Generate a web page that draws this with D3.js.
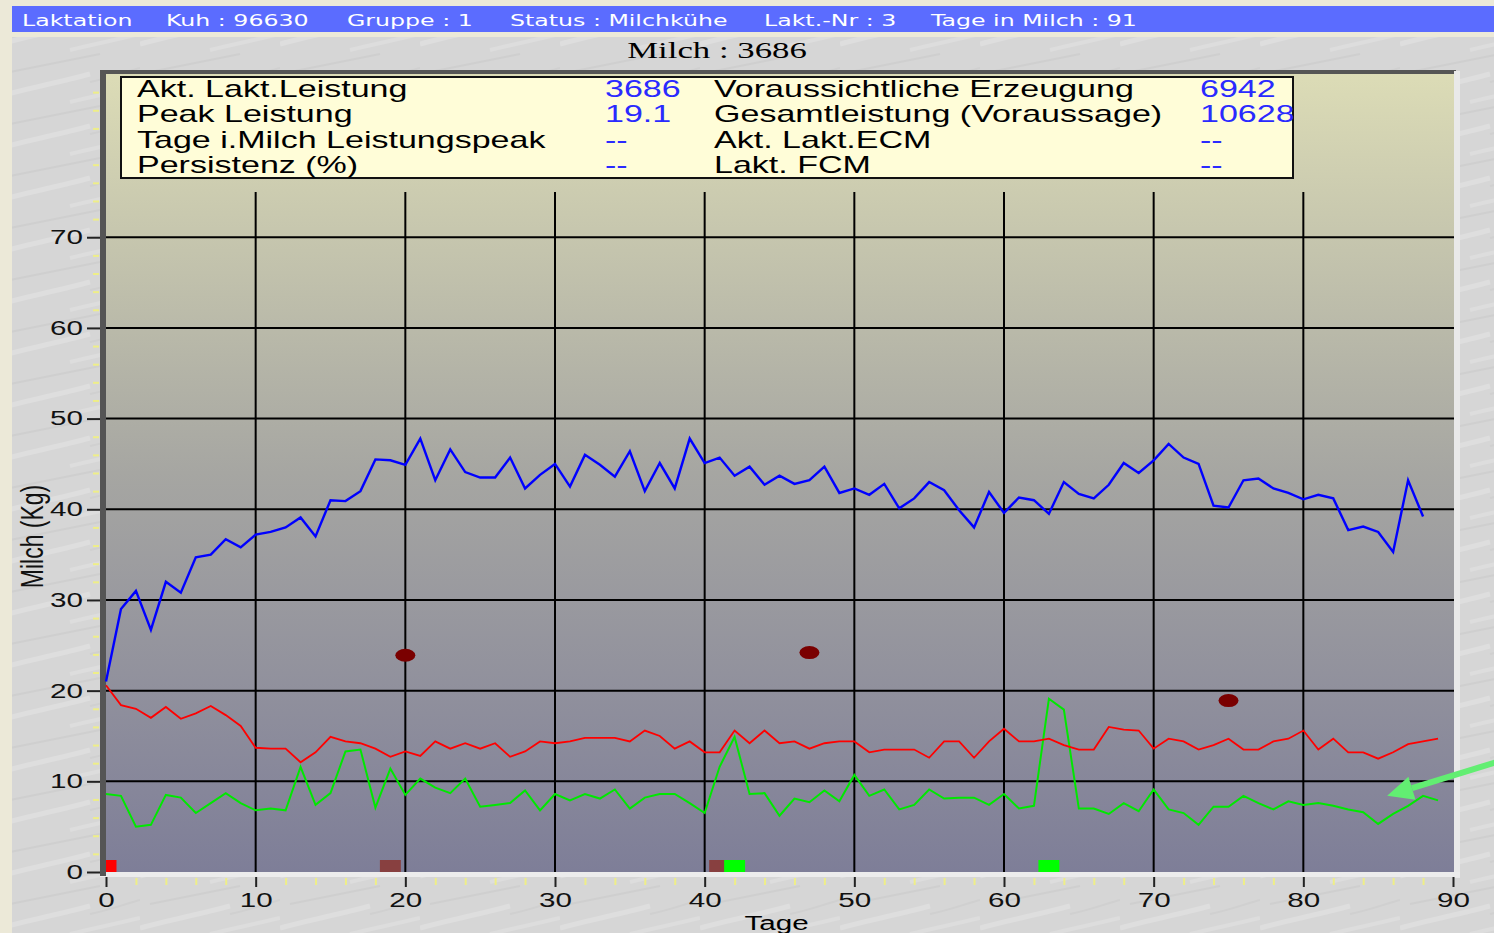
<!DOCTYPE html>
<html>
<head>
<meta charset="utf-8">
<script src="https://cdn.jsdelivr.net/npm/d3@7"></script>
<style>
  body { margin: 0; background: #ece9d8; }
  svg { display: block; }
</style>
</head>
<body>
<svg id="chart" width="1494" height="933"></svg>
<script>

// header + info box texts
let headerFields = ['Laktation', 'Kuh : 96630', 'Gruppe : 1', 'Status : Milchkühe', 'Lakt.-Nr : 3', 'Tage in Milch : 91']
let chartTitle = 'Milch : 3686'
let infoLabelsLeft = ['Akt. Lakt.Leistung', 'Peak Leistung', 'Tage i.Milch Leistungspeak', 'Persistenz (%)']
let infoValuesLeft = ['3686', '19.1', '--', '--']
let infoLabelsRight = ['Voraussichtliche Erzeugung', 'Gesamtleistung (Voraussage)', 'Akt. Lakt.ECM', 'Lakt. FCM']
let infoValuesRight = ['6942', '10628', '--', '--']

// axes
let xTicks = [0, 10, 20, 30, 40, 50, 60, 70, 80, 90]
let yTicks = [0, 10, 20, 30, 40, 50, 60, 70]
let xTitle = 'Tage'
let yTitle = 'Milch (Kg)'

// daily series, index = day in milk
let milchKg = [
  21.0, 29.0, 31.0, 26.7, 32.0, 30.8, 34.7, 35.0, 36.7, 35.8,
  37.2, 37.5, 38.0, 39.1, 37.0, 41.0, 40.9, 42.0, 45.5, 45.4,
  44.9, 47.8, 43.2, 46.6, 44.1, 43.5, 43.5, 45.7, 42.3, 43.8,
  45.0, 42.5, 46.0, 44.9, 43.6, 46.4, 42.0, 45.1, 42.3, 47.8,
  45.1, 45.7, 43.7, 44.7, 42.7, 43.7, 42.8, 43.2, 44.7, 41.8,
  42.3, 41.6, 42.8, 40.1, 41.2, 43.0, 42.1, 39.9, 38.0, 41.9,
  39.6, 41.3, 41.0, 39.5, 43.0, 41.7, 41.2, 42.7, 45.1, 44.0,
  45.4, 47.2, 45.7, 45.0, 40.4, 40.2, 43.2, 43.4, 42.3, 41.8,
  41.1, 41.6, 41.2, 37.7, 38.1, 37.5, 35.3, 43.2, 39.2
]
let roteKurve = [
  20.6, 18.4, 18.0, 17.0, 18.2, 16.9, 17.5, 18.3, 17.3, 16.1,
  13.7, 13.6, 13.6, 12.1, 13.2, 14.9, 14.4, 14.2, 13.6, 12.7,
  13.3, 12.8, 14.4, 13.6, 14.2, 13.6, 14.2, 12.7, 13.3, 14.4,
  14.2, 14.4, 14.8, 14.8, 14.8, 14.4, 15.6, 15.0, 13.6, 14.4,
  13.2, 13.2, 15.6, 14.2, 15.6, 14.2, 14.4, 13.6, 14.2, 14.4,
  14.4, 13.2, 13.5, 13.5, 13.5, 12.6, 14.4, 14.4, 12.6, 14.4,
  15.8, 14.4, 14.4, 14.7, 14.0, 13.5, 13.5, 16.0, 15.7, 15.6,
  13.6, 14.7, 14.4, 13.5, 14.0, 14.7, 13.5, 13.5, 14.4, 14.7,
  15.6, 13.5, 14.7, 13.2, 13.2, 12.5, 13.2, 14.1, 14.4, 14.7
]
let grueneKurve = [
  8.6, 8.4, 5.0, 5.2, 8.5, 8.2, 6.5, 7.6, 8.7, 7.6,
  6.8, 7.0, 6.8, 11.6, 7.4, 8.7, 13.3, 13.5, 7.1, 11.4,
  8.5, 10.3, 9.3, 8.7, 10.3, 7.2, 7.4, 7.6, 9.0, 6.8,
  8.6, 7.9, 8.6, 8.1, 9.1, 7.0, 8.2, 8.6, 8.6, 7.6,
  6.5, 11.6, 14.9, 8.6, 8.7, 6.2, 8.1, 7.7, 9.0, 7.8,
  10.7, 8.4, 9.1, 6.9, 7.4, 9.1, 8.1, 8.2, 8.2, 7.4,
  8.6, 7.0, 7.3, 19.1, 17.9, 7.0, 7.0, 6.4, 7.6, 6.7,
  9.1, 6.9, 6.5, 5.2, 7.2, 7.2, 8.4, 7.6, 6.9, 7.8,
  7.4, 7.6, 7.3, 6.9, 6.6, 5.3, 6.4, 7.3, 8.4, 7.9
]

// single test points (dark red dots)
let punktTage = [20, 47, 75]
let punktWerte = [23.9, 24.2, 18.9]

// events on the day axis
let ereignisTage = [0, 19, 41, 42, 63]
let ereignisArt = ['rot', 'braun', 'braun', 'gruen', 'gruen']

// hand drawn arrow in the screenshot points here
let pfeilZiel = [85.6, 8.4]

// ---------- layout ----------
let sx = 1.48 // the screenshot is stretched sideways, so is all text
let headerX = [22, 166, 347, 510, 764, 931]
let ereignisFarbe = { rot: '#ff0000', braun: '#884040', gruen: '#00ff00' }

let svg = d3.select('#chart')
let defs = svg.append('defs')

let marble = defs.append('pattern')
  .attr('id', 'marble')
  .attr('width', 140).attr('height', 52)
  .attr('patternUnits', 'userSpaceOnUse')
marble.append('rect').attr('width', 140).attr('height', 52).attr('fill', '#d6d6d6')
marble.append('path').attr('d', 'M0,44 C30,36 60,30 90,22').attr('stroke', '#dedede').attr('stroke-width', 5).attr('fill', 'none')
marble.append('path').attr('d', 'M70,50 C95,44 115,40 140,34').attr('stroke', '#dddddd').attr('stroke-width', 4).attr('fill', 'none')
marble.append('path').attr('d', 'M10,20 C40,14 70,8 100,2').attr('stroke', '#cfcfcf').attr('stroke-width', 2).attr('fill', 'none')
marble.append('path').attr('d', 'M90,30 C110,26 125,20 140,16').attr('stroke', '#d0d0d0').attr('stroke-width', 2).attr('fill', 'none')

let grad = defs.append('linearGradient')
  .attr('id', 'plotBg')
  .attr('x1', 0).attr('y1', 0).attr('x2', 0).attr('y2', 1)
grad.append('stop').attr('offset', 0).attr('stop-color', '#dcdcb6')
grad.append('stop').attr('offset', 0.5).attr('stop-color', '#a6a6a2')
grad.append('stop').attr('offset', 1).attr('stop-color', '#7e7e98')

let txt = (parent, x, y, str, size, opts = {}) => parent.append('text')
  .attr('transform', 'translate(' + x + ',' + y + ') scale(' + sx + ',1)')
  .attr('font-family', opts.family || '"Liberation Sans", Arial, sans-serif')
  .attr('font-size', size)
  .attr('fill', opts.fill || '#000')
  .attr('text-anchor', opts.anchor || 'start')
  .text(str)

// window background
svg.append('rect').attr('width', 1494).attr('height', 933).attr('fill', '#ece9d8')
svg.append('rect').attr('x', 12).attr('y', 37).attr('width', 1482).attr('height', 896).attr('fill', 'url(#marble)')
svg.append('rect').attr('x', 12).attr('y', 6).attr('width', 1482).attr('height', 26).attr('fill', '#5b6cff')

headerFields.forEach((f, i) => {
  txt(svg, headerX[i], 26, f, 16, { fill: '#ffffff', family: '"DejaVu Sans", Verdana, sans-serif' })
})
txt(svg, 717, 58, chartTitle, 23.5, { anchor: 'middle', family: '"Liberation Serif", "Times New Roman", serif' })

// scales
let x = d3.scaleLinear().domain([0, 90]).range([106, 1453])
let y = d3.scaleLinear().domain([0, 88]).range([872, 74])

// plot frame
svg.append('rect').attr('x', 106).attr('y', 73).attr('width', 1348).attr('height', 799).attr('fill', 'url(#plotBg)')
svg.append('rect').attr('x', 100).attr('y', 70).attr('width', 1356).attr('height', 4).attr('fill', '#555555')
svg.append('rect').attr('x', 1454).attr('y', 71).attr('width', 6).attr('height', 807).attr('fill', '#e9e9e9')
svg.append('rect').attr('x', 100).attr('y', 872).attr('width', 1360).attr('height', 5).attr('fill', '#ececec')
svg.append('rect').attr('x', 100).attr('y', 70).attr('width', 6).attr('height', 806).attr('fill', '#555555')

// grid
svg.append('g')
  .selectAll('line')
  .data(yTicks.filter(d => d > 0))
  .enter().append('line')
  .attr('x1', x(0)).attr('x2', 1454)
  .attr('y1', d => y(d)).attr('y2', d => y(d))
  .attr('stroke', '#000').attr('stroke-width', 2)
svg.append('g')
  .selectAll('line')
  .data(xTicks.filter(d => d > 0 && d < 90))
  .enter().append('line')
  .attr('x1', d => x(d)).attr('x2', d => x(d))
  .attr('y1', y(0)).attr('y2', y(75))
  .attr('stroke', '#000').attr('stroke-width', 2)

// axes
let yMinor = d3.range(2, 87, 2).filter(d => d % 10 != 0)
let xMinor = d3.range(2, 90, 2).filter(d => d % 10 != 0)

let yMinorAxis = svg.append('g').attr('transform', 'translate(99,0)')
  .call(d3.axisLeft(y).tickValues(yMinor).tickSize(6).tickFormat(''))
yMinorAxis.select('.domain').remove()
yMinorAxis.selectAll('line').attr('stroke', '#eeee88').attr('stroke-width', 2)

let yAxis = svg.append('g').attr('transform', 'translate(100,0)')
  .call(d3.axisLeft(y).tickValues(yTicks).tickSize(13).tickPadding(4))
yAxis.select('.domain').remove()
yAxis.selectAll('line').attr('stroke', '#222').attr('stroke-width', 2)
yAxis.selectAll('text')
  .attr('x', -17 / sx)
  .attr('transform', 'scale(' + sx + ',1)')
  .attr('font-family', '"Liberation Sans", Arial, sans-serif')
  .attr('font-size', 20)
  .attr('fill', '#111')

let xMinorAxis = svg.append('g').attr('transform', 'translate(0,878)')
  .call(d3.axisBottom(x).tickValues(xMinor).tickSize(7).tickFormat(''))
xMinorAxis.select('.domain').remove()
xMinorAxis.selectAll('line').attr('stroke', '#eeee88').attr('stroke-width', 2)

let xAxis = svg.append('g').attr('transform', 'translate(0,877)')
  .call(d3.axisBottom(x).tickValues(xTicks).tickSize(10).tickPadding(6))
xAxis.select('.domain').remove()
xAxis.selectAll('line').attr('stroke', '#222').attr('stroke-width', 2)
xAxis.selectAll('text')
  .attr('transform', 'scale(' + sx + ',1)')
  .attr('font-family', '"Liberation Sans", Arial, sans-serif')
  .attr('font-size', 20)
  .attr('fill', '#111')

txt(svg, x(45) - 3, 930, xTitle, 20, { anchor: 'middle' })
svg.append('text')
  .attr('transform', 'translate(43,' + y(37) + ') rotate(-90) scale(1,1.4)')
  .attr('text-anchor', 'middle')
  .attr('font-family', '"Liberation Sans", Arial, sans-serif')
  .attr('font-size', 23)
  .attr('fill', '#111')
  .text(yTitle)

// info box
svg.append('rect')
  .attr('x', 121).attr('y', 77).attr('width', 1172).attr('height', 101)
  .attr('fill', '#fffdd8').attr('stroke', '#111').attr('stroke-width', 2)
let rowY = [97, 122, 147.5, 173]
infoLabelsLeft.forEach((t, i) => txt(svg, 137, rowY[i], t, 23))
infoValuesLeft.forEach((t, i) => txt(svg, 605, rowY[i], t, 23, { fill: '#2a2aff' }))
infoLabelsRight.forEach((t, i) => txt(svg, 714, rowY[i], t, 23))
infoValuesRight.forEach((t, i) => txt(svg, 1200, rowY[i], t, 23, { fill: '#2a2aff' }))

// event boxes on the day axis
svg.append('defs').append('clipPath').attr('id', 'plotClip')
  .append('rect').attr('x', x(0)).attr('y', 73).attr('width', 1348).attr('height', 799)
svg.append('g').attr('clip-path', 'url(#plotClip)')
  .selectAll('rect')
  .data(ereignisTage)
  .enter().append('rect')
  .attr('x', d => x(d - 0.7))
  .attr('width', d => x(d + 0.7) - x(d - 0.7))
  .attr('y', y(0) - 12)
  .attr('height', 12)
  .attr('fill', (d, i) => ereignisFarbe[ereignisArt[i]])

// lines
let line = d3.line().x((d, i) => x(i)).y(d => y(d))
svg.append('path').datum(grueneKurve).attr('d', line)
  .attr('fill', 'none').attr('stroke', '#00e800').attr('stroke-width', 2)
svg.append('path').datum(roteKurve).attr('d', line)
  .attr('fill', 'none').attr('stroke', '#ff0000').attr('stroke-width', 1.8)
svg.append('path').datum(milchKg).attr('d', line)
  .attr('fill', 'none').attr('stroke', '#0000ff').attr('stroke-width', 2.4)

svg.append('g')
  .selectAll('ellipse')
  .data(punktTage)
  .enter().append('ellipse')
  .attr('cx', d => x(d))
  .attr('cy', (d, i) => y(punktWerte[i]))
  .attr('rx', 10).attr('ry', 6.5)
  .attr('fill', '#7a0000')

// green arrow annotation
let tip = [x(pfeilZiel[0]), y(pfeilZiel[1])]
let tail = [1500, 761]
let len = Math.hypot(tip[0] - tail[0], tip[1] - tail[1])
let u = [(tip[0] - tail[0]) / len, (tip[1] - tail[1]) / len]
let base = [tip[0] - u[0] * 26, tip[1] - u[1] * 26]
let perp = [-u[1], u[0]]
svg.append('line')
  .attr('x1', tail[0]).attr('y1', tail[1])
  .attr('x2', base[0]).attr('y2', base[1])
  .attr('stroke', '#62ee72').attr('stroke-width', 6)
svg.append('polygon')
  .attr('points', [tip, [base[0] + perp[0] * 12, base[1] + perp[1] * 12], [base[0] - perp[0] * 12, base[1] - perp[1] * 12]].map(p => p.join(',')).join(' '))
  .attr('fill', '#62ee72')

</script>
</body>
</html>
